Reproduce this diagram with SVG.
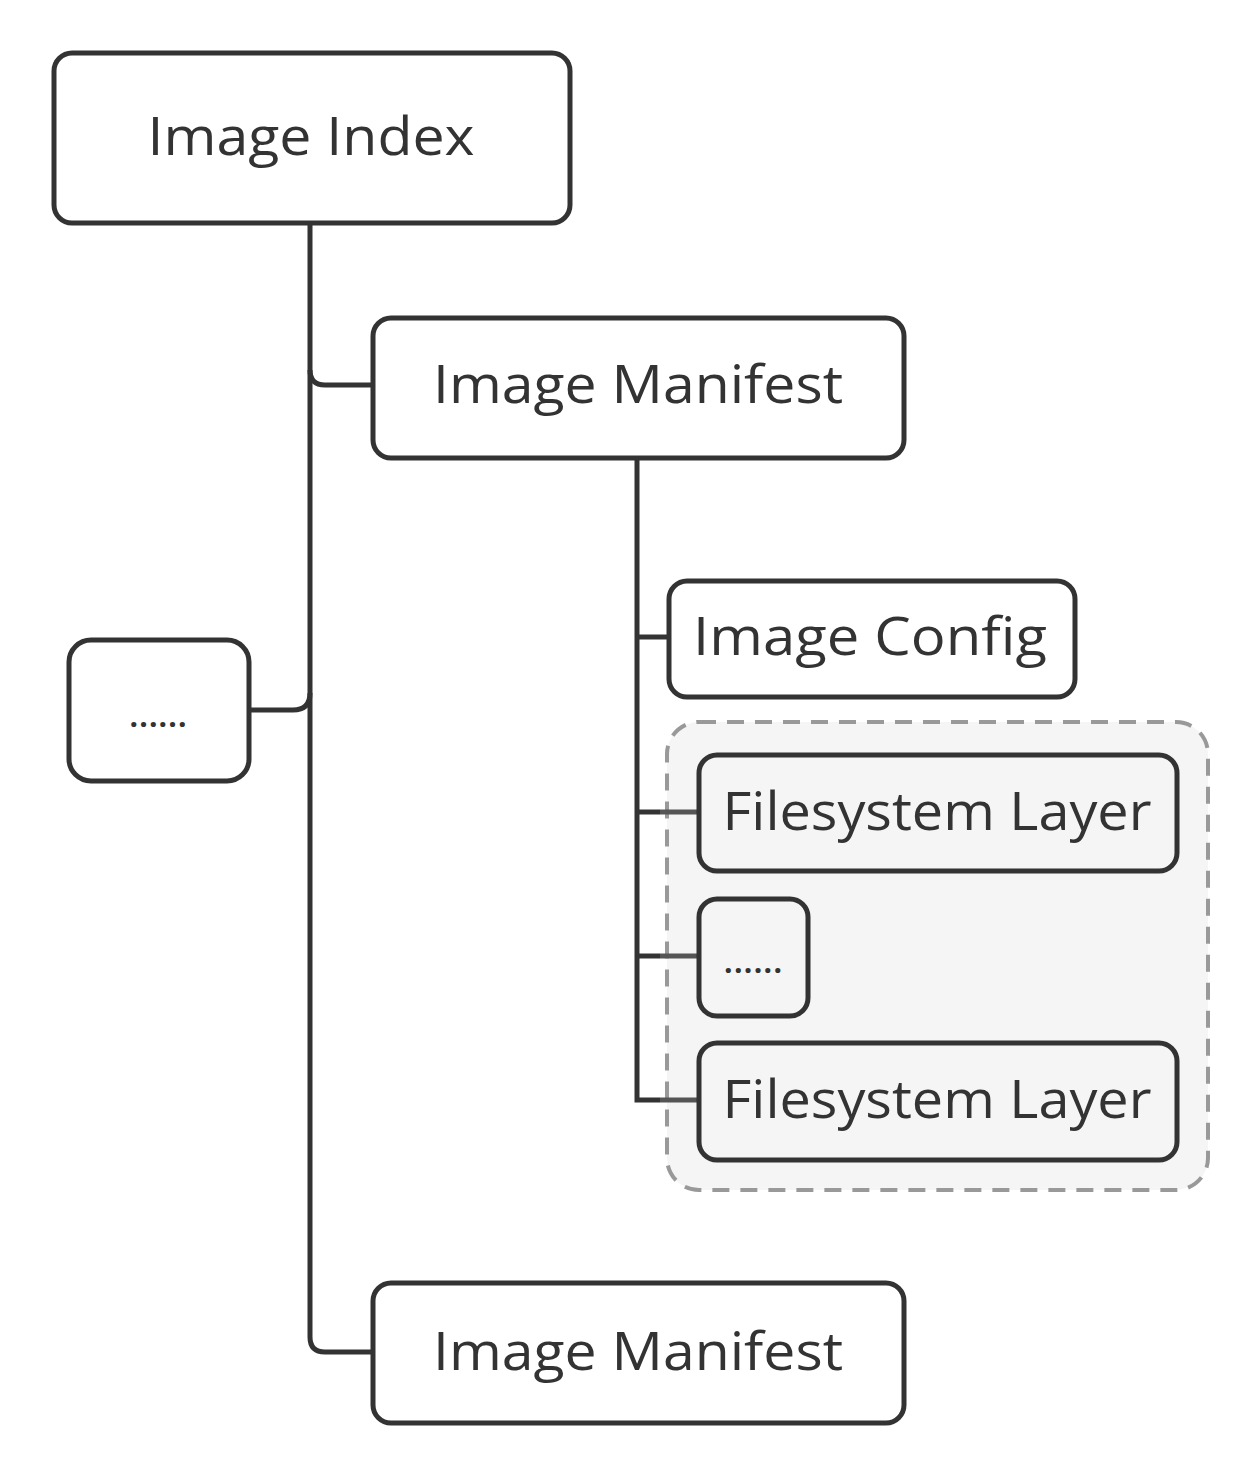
<svg xmlns="http://www.w3.org/2000/svg" width="1258" height="1474" viewBox="0 0 1258 1474">
<style>
.box{fill:#fff;stroke:#333;stroke-width:5}
.inner{fill:#f5f5f5;stroke:#333;stroke-width:5}
.lbl{font-family:"Open Sans","Liberation Sans",sans-serif;font-size:53px;fill:#333;text-anchor:middle}
.dots{font-family:"Open Sans","Liberation Sans",sans-serif;font-size:30px;fill:#333;text-anchor:middle;font-weight:bold}
.c{fill:none;stroke:#333;stroke-width:5}
.cg{fill:none;stroke:#555;stroke-width:5}
</style>
<rect width="1258" height="1474" fill="#fff"/>
<g id="group-layers">
<rect x="667" y="722" width="541" height="468" rx="32" fill="#f5f5f5" stroke="#999" stroke-width="4" stroke-dasharray="17 11"/>
</g>
<g id="connectors">
<path class="c" d="M310,223 V1337 Q310,1352 325,1352 H373"/>
<path class="c" d="M310,370 Q310,385 325,385 H373"/>
<path class="c" d="M247,710 H293 Q310,710 310,693"/>
<path class="c" d="M637,458 V1100 H660"/>
<path class="c" d="M637,637 H669"/>
<path class="c" d="M637,812 H660"/>
<path class="c" d="M637,956 H660"/>
<path class="cg" d="M660,812 H699 M660,956 H699 M660,1100 H699"/>
</g>
<g id="image-index">
<rect class="box" x="54" y="53" width="516" height="170" rx="18"/>
<text class="lbl" x="311" y="155" textLength="327" lengthAdjust="spacingAndGlyphs">Image Index</text>
</g>
<g id="image-manifest-1">
<rect class="box" x="373" y="318" width="531" height="140" rx="18"/>
<text class="lbl" x="638" y="403" textLength="410" lengthAdjust="spacingAndGlyphs">Image Manifest</text>
</g>
<g id="ellipsis-1">
<rect class="box" x="69" y="640" width="180" height="141" rx="22"/>
<text class="dots" x="158" y="727" textLength="57" lengthAdjust="spacing">......</text>
</g>
<g id="image-config">
<rect class="box" x="669" y="581" width="406" height="116" rx="18"/>
<text class="lbl" x="870" y="655" textLength="354" lengthAdjust="spacingAndGlyphs">Image Config</text>
</g>
<g id="fs-layer-1">
<rect class="inner" x="699" y="755" width="478" height="116" rx="18"/>
<text class="lbl" x="937" y="830" textLength="429" lengthAdjust="spacingAndGlyphs">Filesystem Layer</text>
</g>
<g id="ellipsis-2">
<rect class="inner" x="699" y="899" width="109" height="117" rx="18"/>
<text class="dots" x="753" y="973" textLength="58" lengthAdjust="spacing">......</text>
</g>
<g id="fs-layer-2">
<rect class="inner" x="699" y="1043" width="478" height="117" rx="18"/>
<text class="lbl" x="937" y="1118" textLength="429" lengthAdjust="spacingAndGlyphs">Filesystem Layer</text>
</g>
<g id="image-manifest-2">
<rect class="box" x="373" y="1283" width="531" height="140" rx="18"/>
<text class="lbl" x="638" y="1370" textLength="410" lengthAdjust="spacingAndGlyphs">Image Manifest</text>
</g>
</svg>
